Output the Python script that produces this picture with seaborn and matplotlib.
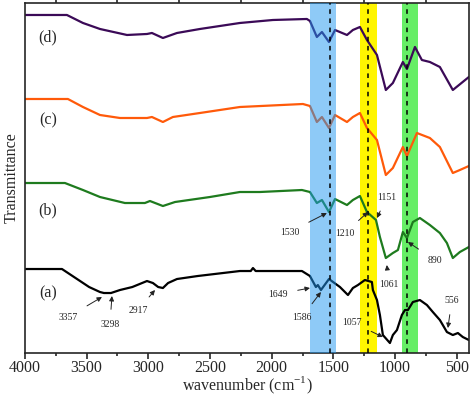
import matplotlib
matplotlib.use("Agg")
import matplotlib.pyplot as plt
import seaborn as sns
import pandas as pd
from matplotlib.ticker import MultipleLocator

sns.set_style("ticks")
plt.rcParams['font.family'] = ['Liberation Serif', 'DejaVu Serif']

# spectrum (a)
wn_a = [4000, 3700, 3590, 3480, 3392, 3360, 3303, 3230, 3130, 3011, 2963, 2920, 2882, 2840,
        2768, 2600, 2258, 2170, 2152, 2130, 2006, 1755, 1690, 1642, 1626, 1601, 1536, 1447,
        1382, 1342, 1301, 1245, 1188, 1180, 1147, 1123, 1099, 1042, 1018, 985, 945, 920, 896,
        856, 799, 742, 694, 637, 580, 532, 491, 451, 402]
t_a = [84, 84, 75, 66, 61, 60, 60, 63, 66, 72, 70, 66, 65, 70,
       74, 77, 82, 82, 85, 82, 82, 82, 77, 66, 68, 63, 74, 66,
       58, 65, 68, 73, 71, 63, 53, 38, 18, 10, 18, 23, 38, 43, 43,
       51, 53, 48, 41, 33, 21, 18, 20, 16, 13]

# spectrum (b)
wn_b = [4000, 3676, 3530, 3392, 3190, 3028, 2987, 2882, 2784, 2501, 2258, 2096, 1755, 1690,
        1634, 1593, 1536, 1487, 1390, 1342, 1285, 1228, 1155, 1123, 1075, 1018, 977, 937, 904,
        856, 799, 718, 637, 580, 532, 475, 402]
t_b = [170, 170, 163, 156, 150, 150, 152, 147, 151, 156, 161, 161, 163, 161,
       150, 153, 141, 154, 148, 153, 157, 141, 133, 116, 95, 100, 103, 121, 115,
       131, 135, 128, 120, 110, 95, 101, 106]

# spectrum (c)
wn_c = [4000, 3652, 3530, 3392, 3230, 3011, 2971, 2882, 2801, 2582, 2258, 1747, 1690, 1634,
        1593, 1536, 1487, 1390, 1342, 1285, 1228, 1147, 1075, 1018, 937, 904, 823, 718, 637,
        532, 475, 402]
t_c = [254, 254, 246, 238, 235, 235, 236, 231, 236, 240, 246, 249, 247, 231,
       236, 225, 238, 231, 236, 240, 225, 213, 178, 185, 206, 197, 220, 215, 206,
       180, 183, 187]

# spectrum (d)
wn_d = [4000, 3660, 3530, 3392, 3173, 3011, 2971, 2882, 2768, 2582, 2258, 1990, 1715, 1690,
        1634, 1593, 1536, 1487, 1390, 1342, 1285, 1228, 1147, 1075, 1018, 937, 904, 839, 783,
        718, 637, 532, 402]
t_d = [338, 338, 330, 324, 318, 319, 320, 315, 320, 324, 330, 333, 334, 332,
       316, 321, 311, 323, 318, 323, 326, 313, 298, 263, 270, 291, 284, 306, 293,
       291, 286, 263, 276]

series_names = ['(a)', '(b)', '(c)', '(d)']
series_colors = ['#000000', '#1E7B1E', '#FF5A0A', '#3B0A57']

# highlighted bands (low, high, centre, colour, alpha, on top)
bands = [(1690, 1480, 1530, '#1E96F0', 0.5, True),
         (1285, 1147, 1220, '#FFF500', 1.0, False),
         (945, 815, 900, '#66EE66', 1.0, False)]

# peak annotations: label, text position, arrow target
peaks = [
    ('3357', (3650, 36), (3376, 56)),
    ('3298', (3311, 29), (3295, 57)),
    ('2917', (3084, 43), (2946, 63)),
    ('1649', (1950, 59), (1690, 65)),
    ('1586', (1755, 36), (1601, 61)),
    ('1057', (1350, 31), (1099, 16)),
    ('556', (540, 53), (572, 25)),
    ('1530', (1855, 121), (1553, 140)),
    ('1210', (1407, 120), (1220, 141)),
    ('1151', (1067, 156), (1147, 135)),
    ('1061', (1050, 69), (1067, 88)),
    ('890', (677, 93), (896, 111)),
]
label_y = [60, 143, 233, 316]

frames = []
for name, wn, t in zip(series_names, [wn_a, wn_b, wn_c, wn_d], [t_a, t_b, t_c, t_d]):
    frames.append(pd.DataFrame({'wavenumber': wn, 'T': t, 'sample': name}))
df = pd.concat(frames, ignore_index=True)

fig, ax = plt.subplots(figsize=(4.71, 3.98), dpi=100)
fig.subplots_adjust(left=0.053, right=0.996, top=0.9925, bottom=0.113)

sns.lineplot(data=df, x='wavenumber', y='T', hue='sample', palette=series_colors,
             sort=False, estimator=None, linewidth=1.6, legend=False, ax=ax, zorder=2)

for lo, hi, c, col, a, on_top in bands:
    ax.axvspan(hi, lo, color=col, alpha=a, lw=0, zorder=3 if on_top else 1)
    ax.axvline(c, color='black', ls=(0, (3, 3)), lw=1.1, zorder=4)

for name, y in zip(series_names, label_y):
    ax.text(3814, y, name, fontsize=11.5, ha='center', va='center')

for txt, xy_text, xy in peaks:
    ax.annotate(txt, xy=xy, xytext=xy_text, fontsize=7, ha='center', va='center',
                arrowprops=dict(arrowstyle='-|>', color='#222222', lw=0.7,
                                mutation_scale=7, shrinkA=5, shrinkB=0), zorder=5)

ax.set_xlim(4000, 400)
ax.set_ylim(0, 350)
ax.xaxis.set_major_locator(MultipleLocator(500))
ax.xaxis.set_minor_locator(MultipleLocator(250))
ax.set_yticks([])
ax.tick_params(axis='x', which='major', direction='out', length=4, width=1.2, labelsize=11.5, pad=1)
ax.tick_params(axis='x', which='minor', direction='out', length=2.5, width=1.2, top=True)
ax.set_xlabel('wavenumber (cm$^{\\mathregular{-1}}$)', fontsize=11.5, labelpad=-1)
ax.set_ylabel('Transmittance', fontsize=11.5, labelpad=4)
for s in ax.spines.values():
    s.set_linewidth(1.2)

fig.savefig('out.png', dpi=100)
